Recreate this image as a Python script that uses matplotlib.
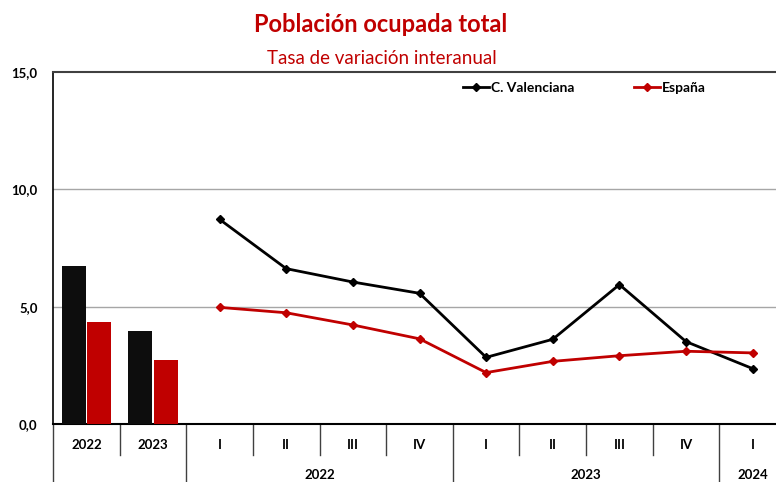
import matplotlib
matplotlib.use("Agg")
import matplotlib.pyplot as plt
from matplotlib.lines import Line2D

plt.rcParams['font.family'] = ['Lato', 'DejaVu Sans']

annual_labels = ["2022", "2023"]
cv_annual = [6.72, 3.96]
es_annual = [4.35, 2.73]

quarter_labels = ["I", "II", "III", "IV", "I", "II", "III", "IV", "I"]
year_groups = [("2022", 2, 5), ("2023", 6, 9), ("2024", 10, 10)]
cv_quarter = [8.72, 6.62, 6.05, 5.57, 2.84, 3.61, 5.94, 3.51, 2.36]
es_quarter = [4.97, 4.74, 4.22, 3.63, 2.19, 2.67, 2.91, 3.10, 3.03]

yticks = [0, 5, 10, 15]
ytick_labels = ["0,0", "5,0", "10,0", "15,0"]

BLACK = "#0D0D0D"
RED = "#C00000"

W, H = 776, 482
fig = plt.figure(figsize=(W / 100, H / 100), dpi=100)
left_px, right_px, top_px, bot_px = 53, 786, 72, 424
ax = fig.add_axes([left_px / W, (H - bot_px) / H, (right_px - left_px) / W, (bot_px - top_px) / H])

# bars
bw = 0.36
xa = list(range(len(annual_labels)))
ax.bar([x - 0.19 for x in xa], cv_annual, width=bw, color=BLACK, zorder=3)
ax.bar([x + 0.19 for x in xa], es_annual, width=bw, color=RED, zorder=3)

# lines
xq = list(range(2, 2 + len(quarter_labels)))
ax.plot(xq, cv_quarter, color="black", lw=2, marker="D", ms=4.5, label="C. Valenciana", zorder=4)
ax.plot(xq, es_quarter, color=RED, lw=2, marker="D", ms=4.5, label="España", zorder=4)

ax.set_xlim(-0.5, 10.5)
ax.set_ylim(0, 15)
ax.set_yticks(yticks)
ax.set_yticklabels(ytick_labels, fontsize=9.5, fontweight="bold")
ax.tick_params(axis="y", length=0, pad=11)
ax.set_xticks([])
for y in [5, 10]:
    ax.axhline(y, color="#A6A6A6", lw=1, zorder=1)
for s in ["right"]:
    ax.spines[s].set_visible(False)
ax.spines["top"].set_color("#404040")
ax.spines["top"].set_linewidth(1.5)
ax.spines["left"].set_linewidth(1.2)
ax.spines["bottom"].set_linewidth(1.5)

# category labels
all_labels = annual_labels + quarter_labels
ylab = -21 / 352
for i, lab in enumerate(all_labels):
    ax.text(i, ylab, lab, transform=ax.get_xaxis_transform(), ha="center", va="center",
            fontsize=9.5, fontweight="bold", clip_on=False)
short = -31 / 352
long_ = -60 / 352
long_bounds = [-0.5, 1.5, 5.5, 9.5]
for b in [i + 0.5 for i in range(len(all_labels))] + [-0.5]:
    yend = long_ if b in long_bounds else short
    ax.add_line(Line2D([b, b], [0, yend], transform=ax.get_xaxis_transform(),
                       color="#404040", lw=1, clip_on=False))
for name, a, b in year_groups:
    ax.text((a + b) / 2, -51 / 352, name, transform=ax.get_xaxis_transform(), ha="center",
            va="center", fontsize=9.5, fontweight="bold", clip_on=False)

leg = ax.legend(loc="upper left", bbox_to_anchor=((463 - left_px) / (right_px - left_px), 1 - 10 / 352),
                ncol=2, frameon=False, prop={"weight": "bold", "size": 10},
                handlelength=1.85, handletextpad=0.15, columnspacing=4.3, borderaxespad=0,
                borderpad=0)

fig.text(381 / W, 1 - 25 / H, "Población ocupada total", ha="center", va="center",
         color=RED, fontsize=17, fontweight="bold")
fig.text(382 / W, 1 - 58 / H, "Tasa de variación interanual", ha="center", va="center",
         color=RED, fontsize=13.5)

fig.savefig("out.png", dpi=100)
